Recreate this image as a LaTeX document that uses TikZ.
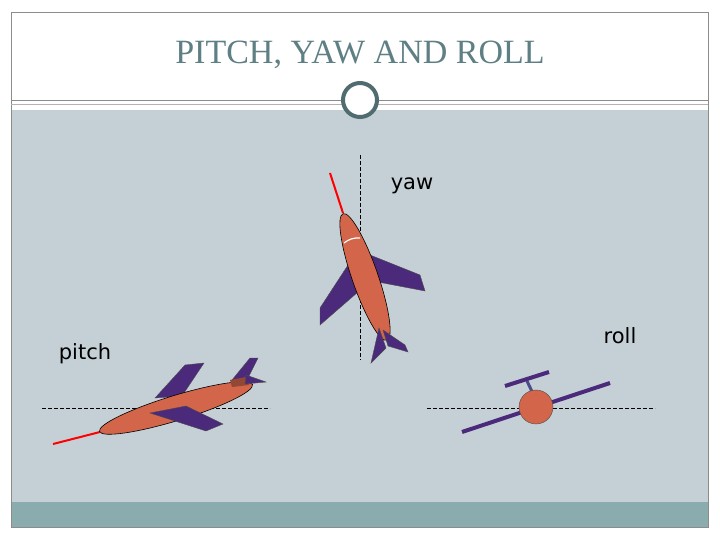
\documentclass[tikz,border=0pt]{standalone}
\usepackage{fontspec}
\setmainfont{Liberation Serif}
\newfontfamily\lab{DejaVu Sans}
\begin{document}
\begin{tikzpicture}[x=1pt,y=-1pt,
 body/.style={fill=bodyc, draw=black, line width=0.6pt},
 wing/.style={fill=wingc, draw=black!70, line width=0.4pt},
 dline/.style={dash pattern=on 4pt off 2pt, line width=0.6pt},
 lbl/.style={font=\lab\fontsize{21}{24}\selectfont}]
\definecolor{bodyc}{HTML}{D2654A}
\definecolor{wingc}{HTML}{4B2A7B}
\definecolor{bgc}{HTML}{C5D0D6}
\definecolor{bandc}{HTML}{8AACAF}
\definecolor{titc}{HTML}{5E7F84}
\useasboundingbox (0,0) rectangle (720,540);
\fill[white] (0,0) rectangle (720,540);
\fill[bgc] (11,110) rectangle (708,502);
\fill[bandc] (11,502) rectangle (708,527);
\draw[black!45, line width=0.5pt] (11,12) rectangle (708,527);
\draw[black!45, line width=0.5pt] (11,100) -- (708,100);
\draw[black!30, line width=0.5pt] (11,104) -- (708,104);
\node[circle, fill=white, draw=titc!85!black, line width=4pt, minimum size=34pt] (c) at (360,100) {};
\node[font=\fontsize{34}{36}\selectfont, text=titc] (t) at (360,55) {PITCH, YAW AND ROLL};
% yaw
\draw[dline] (360,155) -- (360,360);
\coordinate (yn) at (343,213);
\coordinate (yr) at (330,173);
\draw[red, line width=2pt] (yr) -- (yn);
\fill[wing] (370,255) -- (420,275) -- (425,291) -- (378,282) -- cycle;
\fill[wing] (350,262) -- (320,308) -- (320,325) -- (358,292) -- cycle;
\draw[body] (365,277) ellipse[x radius=67, y radius=13, rotate=-70.9];
\draw[white, line width=1.2pt] (344,243) to[bend left=20] (360,238);
\fill[wing] (379,328) -- (371,363) -- (386,348) -- cycle;
\fill[wing] (383,330) -- (405,345) -- (408,352) -- (388,346) -- cycle;
% pitch
\draw[dline] (42,408) -- (270,408);
\coordinate (pn) at (100,432);
\coordinate (pr) at (53,444);
\draw[red, line width=2pt] (pr) -- (pn);
\fill[wing] (155,398) -- (185,365) -- (204,363) -- (182,396) -- cycle;
\fill[wing] (232,380) -- (250,358) -- (258,358) -- (247,380) -- cycle;
\draw[body] (176,408) ellipse[x radius=80, y radius=12.5, rotate=17];
\fill[bodyc!70!black] (230,380) -- (246,377) -- (249,385) -- (232,387) -- cycle;
\fill[wing] (246,375) -- (266,382) -- (245,384) -- cycle;
\fill[wing] (150,413) -- (186,406) -- (223,424) -- (206,431) -- cycle;
% roll
\draw[dline] (427,408) -- (655,408);
\draw[wingc, line width=4pt] (462,432) -- (610,383);
\draw[black!40!blue!40!gray, line width=3pt] (536,400) -- (527,381);
\draw[wingc, line width=4pt] (505,386) -- (549,372);
\node[circle, fill=bodyc, draw=black!70, minimum size=34pt, inner sep=0pt] (b) at (536,407) {};
% labels
\node[lbl] (ly) at (412,186) {yaw};
\node[lbl] (lp) at (85,354) {pitch};
\node[lbl] (lr) at (620,336) {roll};
\end{tikzpicture}
\end{document}
